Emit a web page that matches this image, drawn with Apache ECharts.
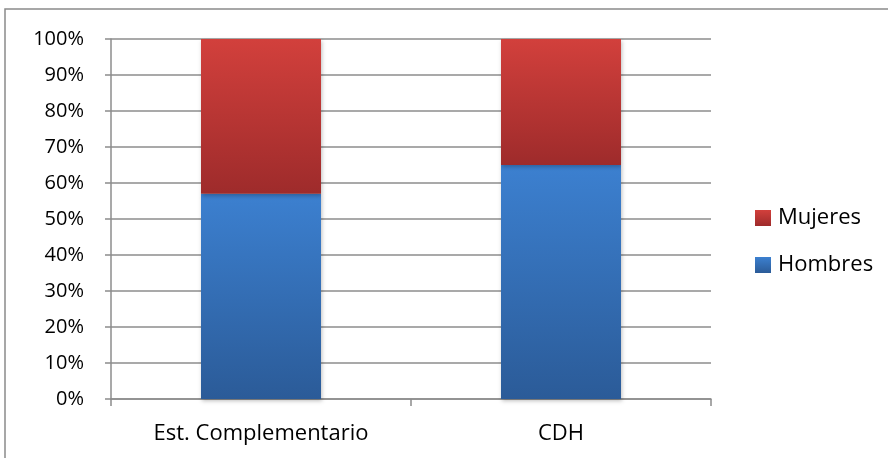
<!DOCTYPE html>
<html><head><meta charset="utf-8">
<script src="https://cdn.jsdelivr.net/npm/echarts@6/dist/echarts.min.js"></script>
<style>html,body{margin:0;padding:0;background:#fff}#c{width:888px;height:458px}</style>
</head><body><div id="c"></div>
<script>
var categories = ['Est. Complementario', 'CDH'];
var hombres = [57, 65];
var mujeres = [43, 35];
var yTicks = [0, 10, 20, 30, 40, 50, 60, 70, 80, 90, 100];

var font = '"Open Sans", "Liberation Sans", sans-serif';
var chart = echarts.init(document.getElementById('c'), null, {renderer: 'canvas'});
function grad(top, bottom) {
  return new echarts.graphic.LinearGradient(0, 0, 0, 1, [{offset: 0, color: top}, {offset: 1, color: bottom}]);
}
chart.setOption({
  animation: false,
  graphic: [{type: 'rect', shape: {x: 5, y: 9, width: 900, height: 470}, style: {fill: 'none', stroke: '#8a8a8a', lineWidth: 1.5}, silent: true}],
  grid: {left: 111, right: 177, top: 39, bottom: 59},
  legend: {
    orient: 'vertical', left: 750, top: 202, itemGap: 25, itemWidth: 16, itemHeight: 16,
    icon: 'rect',
    textStyle: {fontFamily: font, fontSize: 22, color: '#000', padding: [0, 0, 0, 2]},
    data: ['Mujeres', 'Hombres']
  },
  xAxis: {
    type: 'category', data: categories,
    axisLine: {lineStyle: {color: '#8c8c8c', width: 1.5}},
    axisTick: {show: true, length: 7, lineStyle: {color: '#8c8c8c', width: 1.5}},
    axisLabel: {fontFamily: font, fontSize: 22, color: '#000', margin: 24}
  },
  yAxis: {
    type: 'value', min: 0, max: 100, interval: 10,
    axisLine: {show: true, lineStyle: {color: '#8c8c8c', width: 1.5}},
    axisTick: {show: true, length: 6, lineStyle: {color: '#8c8c8c', width: 1.5}},
    splitLine: {lineStyle: {color: '#8c8c8c', width: 1.5}},
    axisLabel: {fontFamily: font, fontSize: 20, color: '#000', margin: 27, formatter: function (v) { return yTicks.indexOf(v) >= 0 ? v + '%' : ''; }}
  },
  series: [
    {name: 'Hombres', type: 'bar', stack: 't', barWidth: '40%', data: hombres,
     itemStyle: {color: grad('#3c80d0', '#2b5b98'), shadowColor: 'rgba(0,0,0,0.25)', shadowBlur: 4, shadowOffsetX: 1, shadowOffsetY: 2}},
    {name: 'Mujeres', type: 'bar', stack: 't', barWidth: '40%', data: mujeres,
     itemStyle: {color: grad('#d2403c', '#9e2b2b'), shadowColor: 'rgba(0,0,0,0.25)', shadowBlur: 4, shadowOffsetX: 1, shadowOffsetY: 2}}
  ]
});
</script></body></html>
